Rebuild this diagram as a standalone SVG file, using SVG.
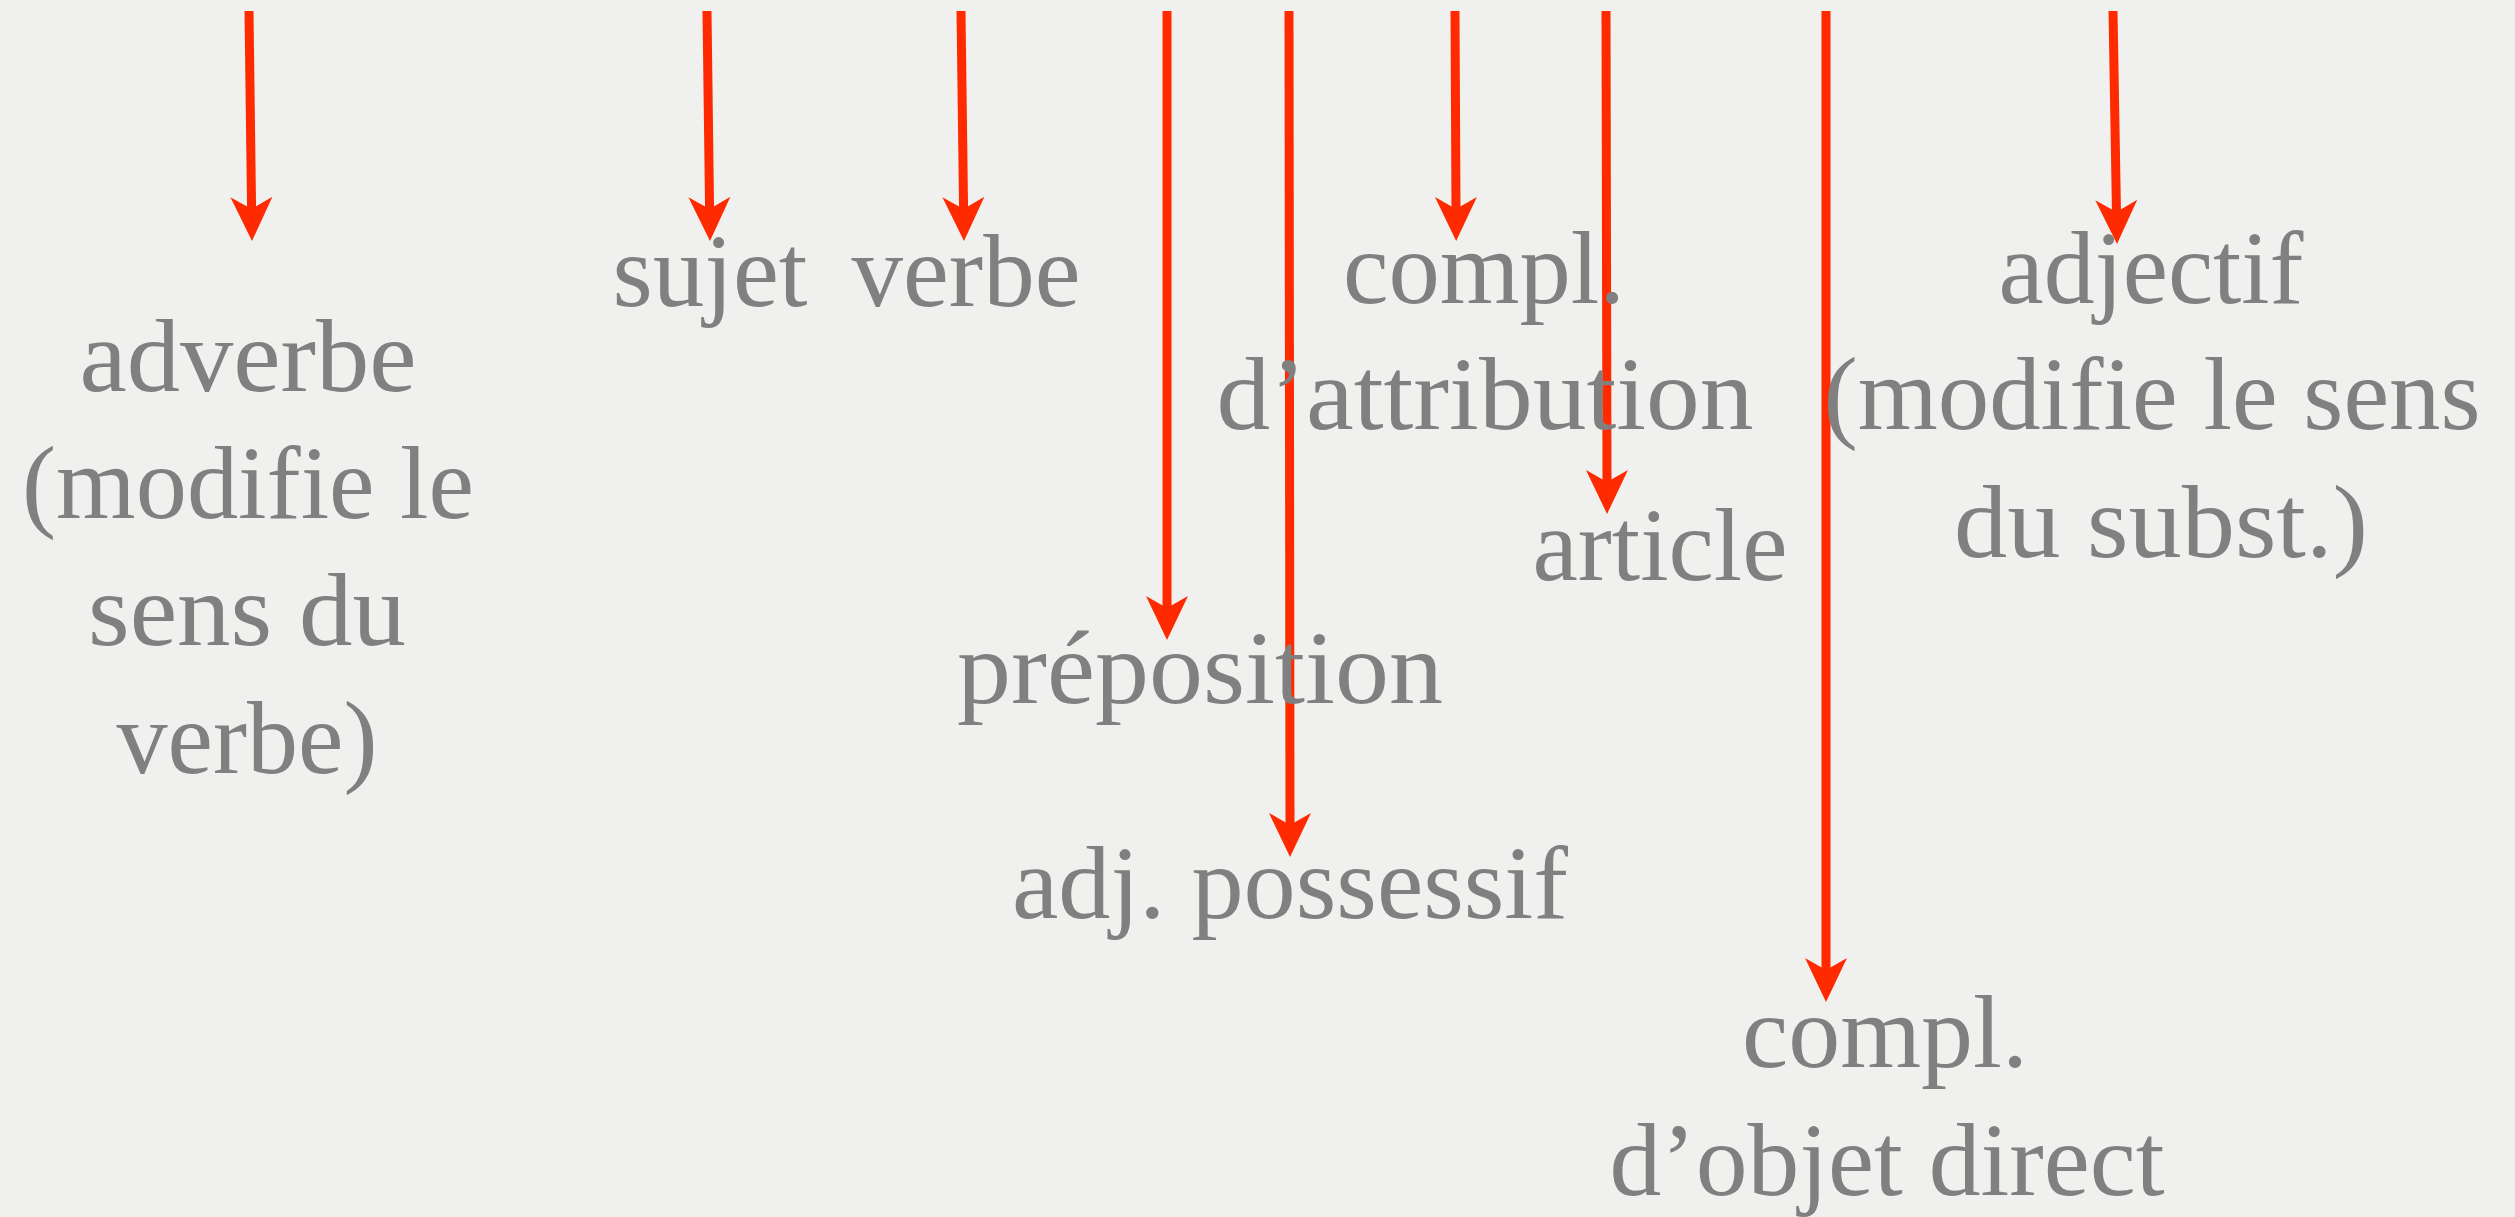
<svg xmlns="http://www.w3.org/2000/svg" width="2515" height="1217" viewBox="0 0 2515 1217">
<style>
.t{font-family:"Liberation Serif","DejaVu Serif",serif;font-size:104px;fill:#808080;text-anchor:middle}
.c{stroke:#ff2a00;stroke-width:9;fill:none;marker-end:url(#ah)}
</style>
<defs>
<marker id="ah" markerUnits="userSpaceOnUse" markerWidth="46" markerHeight="44" viewBox="0 0 46 44" refX="14" refY="21" orient="auto" overflow="visible">
<path d="M0,0 L44,21 L0,42 L12,21 Z" fill="#ff2a00"/>
</marker>
</defs>
<rect x="0" y="0" width="2515" height="1217" fill="#f0f0ee"/>
<g id="connectors">
<line class="c" x1="249" y1="11" x2="251.6" y2="211"/>
<line class="c" x1="707" y1="11" x2="709.6" y2="211"/>
<line class="c" x1="961" y1="11" x2="963.6" y2="211"/>
<line class="c" x1="1167" y1="11" x2="1167" y2="610"/>
<line class="c" x1="1289" y1="11" x2="1290" y2="827"/>
<line class="c" x1="1455" y1="11" x2="1456" y2="211"/>
<line class="c" x1="1606" y1="11" x2="1607" y2="484"/>
<line class="c" x1="1826" y1="11" x2="1826" y2="972"/>
<line class="c" x1="2113" y1="11" x2="2116.5" y2="214"/>
</g>
<g id="adverbe">
<text class="t" x="248" y="391" textLength="337" lengthAdjust="spacingAndGlyphs">adverbe</text>
<text class="t" x="248" y="518" textLength="452" lengthAdjust="spacingAndGlyphs">(modifie le</text>
<text class="t" x="247" y="645" textLength="318" lengthAdjust="spacingAndGlyphs">sens du</text>
<text class="t" x="247" y="773" textLength="261" lengthAdjust="spacingAndGlyphs">verbe)</text>
</g>
<g id="sujet"><text class="t" x="710" y="306" textLength="195" lengthAdjust="spacingAndGlyphs">sujet</text></g>
<g id="verbe"><text class="t" x="966" y="306" textLength="229" lengthAdjust="spacingAndGlyphs">verbe</text></g>
<g id="compl-attribution">
<text class="t" x="1484" y="303" textLength="282" lengthAdjust="spacingAndGlyphs">compl.</text>
<text class="t" x="1485" y="429" textLength="537" lengthAdjust="spacingAndGlyphs">d’attribution</text>
</g>
<g id="article"><text class="t" x="1660" y="580" textLength="255" lengthAdjust="spacingAndGlyphs">article</text></g>
<g id="preposition"><text class="t" x="1200" y="703" textLength="486" lengthAdjust="spacingAndGlyphs">préposition</text></g>
<g id="adj-possessif"><text class="t" x="1290" y="918" textLength="556" lengthAdjust="spacingAndGlyphs">adj. possessif</text></g>
<g id="compl-objet-direct">
<text class="t" x="1885" y="1067" textLength="286" lengthAdjust="spacingAndGlyphs">compl.</text>
<text class="t" x="1887" y="1195" textLength="555" lengthAdjust="spacingAndGlyphs">d’objet direct</text>
</g>
<g id="adjectif">
<text class="t" x="2151" y="303" textLength="305" lengthAdjust="spacingAndGlyphs">adjectif</text>
<text class="t" x="2152" y="429" textLength="657" lengthAdjust="spacingAndGlyphs">(modifie le sens</text>
<text class="t" x="2161" y="557" textLength="414" lengthAdjust="spacingAndGlyphs">du subst.)</text>
</g>
</svg>
